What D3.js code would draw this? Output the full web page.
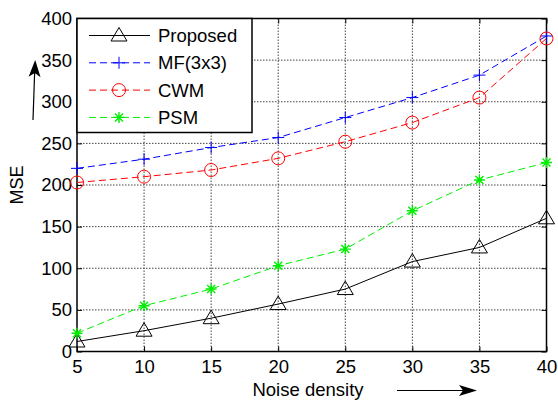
<!DOCTYPE html>
<html>
<head>
<meta charset="utf-8">
<script src="https://cdn.jsdelivr.net/npm/d3@7"></script>
<style>
  body { margin: 0; background: #fff; }
  text { font-family: "Liberation Sans", Arial, sans-serif; }
</style>
</head>
<body>
<div id="chart"></div>
<script>
// values
var noise = [5, 10, 15, 20, 25, 30, 35, 40];
var proposed = [12, 25, 40, 57, 75, 108, 125, 160];
var mf = [220, 231, 245, 257, 281, 305, 332, 379];
var cwm = [203, 210, 218, 232, 252, 275, 305, 376];
var psm = [22, 55, 75, 103, 123, 169, 206, 227];
var yTicks = [0, 50, 100, 150, 200, 250, 300, 350, 400];

var series = [
    {name: "Proposed", values: proposed, color: "#000", dash: null, marker: "tri"},
    {name: "MF(3x3)", values: mf, color: "#0000ff", dash: "7,4", marker: "plus"},
    {name: "CWM", values: cwm, color: "#ff0000", dash: "7,4", marker: "circle"},
    {name: "PSM", values: psm, color: "#00ee00", dash: "7,4", marker: "star"}
];

var W = 558, H = 400;
var margin = {top: 18.5, right: 11.5, bottom: 48.5, left: 77};
var w = W - margin.left - margin.right,
    h = H - margin.top - margin.bottom;
var fs = "18.5px";

var svg = d3.select("#chart").append("svg")
    .attr("width", W).attr("height", H);

var g = svg.append("g")
    .attr("transform", "translate(" + margin.left + "," + margin.top + ")");

var x = d3.scaleLinear().domain([5, 40]).range([0, w]);
var y = d3.scaleLinear().domain([0, 400]).range([h, 0]);

// grid
g.append("g").selectAll("line").data(noise.slice(1, -1)).enter().append("line")
    .attr("x1", function(d) { return x(d); }).attr("x2", function(d) { return x(d); })
    .attr("y1", 0).attr("y2", h)
    .attr("stroke", "#444").attr("stroke-width", 1).attr("stroke-dasharray", "1.5,1.5");
g.append("g").selectAll("line").data(yTicks.slice(1, -1)).enter().append("line")
    .attr("y1", function(d) { return y(d); }).attr("y2", function(d) { return y(d); })
    .attr("x1", 0).attr("x2", w)
    .attr("stroke", "#444").attr("stroke-width", 1).attr("stroke-dasharray", "1.5,1.5");

// axes
var xAxis = g.append("g").attr("transform", "translate(0," + h + ")")
    .call(d3.axisBottom(x).tickValues(noise).tickSize(-5).tickPadding(8));
var yAxis = g.append("g")
    .call(d3.axisLeft(y).tickValues(yTicks).tickSize(-5).tickPadding(5));
var xAxisTop = g.append("g")
    .call(d3.axisTop(x).tickValues(noise).tickSize(-5).tickFormat(""));
var yAxisRight = g.append("g").attr("transform", "translate(" + w + ",0)")
    .call(d3.axisRight(y).tickValues(yTicks).tickSize(-5).tickFormat(""));

[xAxis, yAxis, xAxisTop, yAxisRight].forEach(function(a) {
    a.select(".domain").remove();
    a.selectAll("line").attr("stroke", "#000");
    a.selectAll("text").style("font-size", fs).attr("fill", "#000");
});

g.append("rect").attr("width", w).attr("height", h)
    .attr("fill", "none").attr("stroke", "#000").attr("stroke-width", 1.5);

// markers
function drawMarker(sel, type, color) {
    if (type === "tri") {
        sel.append("path").attr("d", "M0,-8L8,5.5L-8,5.5Z")
            .attr("fill", "none").attr("stroke", color).attr("stroke-width", 1);
    } else if (type === "plus") {
        sel.append("path").attr("d", "M-6,0H6M0,-6V6")
            .attr("stroke", color).attr("stroke-width", 1);
    } else if (type === "circle") {
        sel.append("circle").attr("r", 6.5)
            .attr("fill", "none").attr("stroke", color).attr("stroke-width", 1);
    } else if (type === "star") {
        sel.append("path").attr("d", "M-5.5,0H5.5M0,-5.5V5.5M-4,-4L4,4M-4,4L4,-4")
            .attr("stroke", color).attr("stroke-width", 1.4);
    }
}

var line = d3.line()
    .x(function(d, i) { return x(noise[i]); })
    .y(function(d) { return y(d); });

series.forEach(function(s) {
    g.append("path").datum(s.values)
        .attr("d", line)
        .attr("fill", "none").attr("stroke", s.color).attr("stroke-width", 1)
        .attr("stroke-dasharray", s.dash);
    s.values.forEach(function(v, i) {
        var m = g.append("g").attr("transform", "translate(" + x(noise[i]) + "," + y(v) + ")");
        drawMarker(m, s.marker, s.color);
    });
});

// legend
var legend = g.append("g");
legend.append("rect").attr("x", 0).attr("y", 0).attr("width", 175).attr("height", 114)
    .attr("fill", "#fff").attr("stroke", "#000").attr("stroke-width", 1.5);
series.forEach(function(s, i) {
    var ly = 17 + i * 27.3;
    var row = legend.append("g").attr("transform", "translate(0," + ly + ")");
    row.append("line").attr("x1", 12).attr("x2", 73).attr("y1", 0).attr("y2", 0)
        .attr("stroke", s.color).attr("stroke-width", 1).attr("stroke-dasharray", s.dash);
    drawMarker(row.append("g").attr("transform", "translate(42,0)"), s.marker, s.color);
    row.append("text").attr("x", 81).attr("y", 6.5).text(s.name)
        .style("font-size", fs).attr("fill", "#000");
});

// axis labels
svg.append("text").attr("x", 308).attr("y", 396).attr("text-anchor", "middle")
    .style("font-size", fs).text("Noise density");
svg.append("text").attr("transform", "translate(23,185) rotate(-90)")
    .attr("text-anchor", "middle").style("font-size", "18px").text("MSE");

// arrows (drawn as line + filled head)
svg.append("line").attr("x1", 397).attr("y1", 390.5).attr("x2", 470).attr("y2", 390.5)
    .attr("stroke", "#000").attr("stroke-width", 1.2);
svg.append("path").attr("d", "M477,390.5L459,385L463,390.5L459,396Z").attr("fill", "#000");

svg.append("line").attr("x1", 33).attr("y1", 120).attr("x2", 34.8).attr("y2", 68)
    .attr("stroke", "#000").attr("stroke-width", 1.2);
var ang = Math.atan2(60 - 120, 35.2 - 33) * 180 / Math.PI;
svg.append("path").attr("d", "M0,0L-17,-6L-13,0L-17,6Z").attr("fill", "#000")
    .attr("transform", "translate(35.2,60) rotate(" + ang + ")");
</script>
</body>
</html>
